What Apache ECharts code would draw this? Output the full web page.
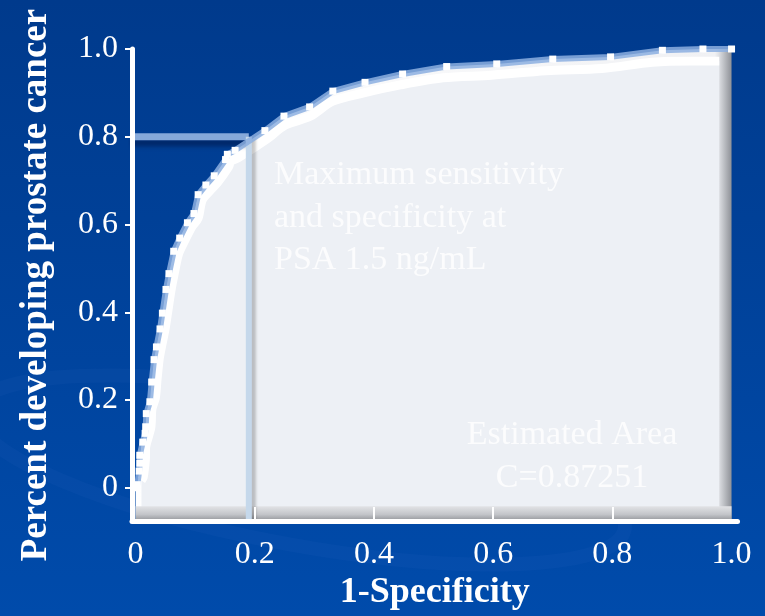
<!DOCTYPE html>
<html>
<head>
<meta charset="utf-8">
<script src="https://cdn.jsdelivr.net/npm/echarts@6/dist/echarts.min.js"></script>
<style>html,body{margin:0;padding:0;background:#0042a0;}#c{width:765px;height:616px;}</style>
</head>
<body>
<div id="c"></div>
<script>
// ROC curve points: [1-Specificity, Sensitivity]
const rocX = [0, 0.003, 0.006, 0.007, 0.007, 0.012, 0.016, 0.017, 0.018, 0.024, 0.027, 0.031, 0.035, 0.041, 0.045, 0.051, 0.056, 0.064, 0.074, 0.087, 0.098, 0.105, 0.118, 0.132, 0.151, 0.154, 0.167, 0.217, 0.249, 0.292, 0.331, 0.385, 0.448, 0.522, 0.606, 0.700, 0.797, 0.884, 0.952, 1.0];
const rocY = [0, 0.007, 0.038, 0.056, 0.074, 0.104, 0.124, 0.139, 0.169, 0.196, 0.241, 0.292, 0.321, 0.362, 0.398, 0.452, 0.488, 0.539, 0.569, 0.604, 0.625, 0.668, 0.690, 0.711, 0.748, 0.760, 0.769, 0.814, 0.847, 0.868, 0.904, 0.924, 0.943, 0.960, 0.966, 0.977, 0.982, 0.997, 1.0, 1.0];
// Optimal cut-off point (PSA 1.5 ng/mL)
const cutX = 0.19;
const cutY = 0.8;
const xTickLabels = [0, 0.2, 0.4, 0.6, 0.8, 1.0];
const yTickLabels = [0, 0.2, 0.4, 0.6, 0.8, 1.0];
const xInnerTicks = [0.2, 0.4, 0.6, 0.8];
const annotation1 = ['Maximum sensitivity', 'and specificity at', 'PSA 1.5 ng/mL'];
const annotation2 = ['Estimated Area', 'C=0.87251'];
const xTitle = '1-Specificity';
const yTitle = 'Percent developing prostate cancer';

const XMIN = -0.006, XMAX = 1.01, YMIN = -0.076, YMAX = 1.0;
const BEVEL_TOP = -0.042;
const roc = rocX.map((x, i) => [x, rocY[i]]);
const fmt = v => (v === 0 ? '0' : v.toFixed(1));
const serif = '"Liberation Serif", "DejaVu Serif", serif';

const chart = echarts.init(document.getElementById('c'), null, {renderer: 'canvas'});
chart.setOption({
  animation: false,
  backgroundColor: {
    type: 'linear', x: 0, y: 0, x2: 0, y2: 1,
    colorStops: [{offset: 0, color: '#003a8c'}, {offset: 1, color: '#004bab'}]
  },
  graphic: [
    {type: 'ellipse', silent: true, z: 0, rotation: -0.18, originX: 300, originY: 470,
     shape: {cx: 300, cy: 470, rx: 330, ry: 75},
     style: {fill: 'none', stroke: 'rgba(90,140,220,0.06)', lineWidth: 14}},
    {type: 'text', silent: true, z: 50, style: {
      text: annotation1.join('\n'), x: 274, y: 154, font: '34px ' + serif,
      fill: 'rgba(255,255,255,0.8)', lineHeight: 42.5, verticalAlign: 'top', align: 'left'}},
    {type: 'text', silent: true, z: 50, style: {
      text: annotation2.join('\n'), x: 572, y: 414, font: '34px ' + serif,
      fill: 'rgba(255,255,255,0.8)', lineHeight: 42.5, verticalAlign: 'top', align: 'center'}}
  ],
  grid: [
    {left: 132, top: 49, right: 27.5, bottom: 89},
    {left: 138, top: 61, right: 40, bottom: 104}
  ],
  xAxis: [
    {type: 'value', gridIndex: 0, min: XMIN, max: XMAX, z: 10,
     name: xTitle, nameLocation: 'middle', nameGap: 53,
     nameTextStyle: {color: '#ffffff', fontFamily: serif, fontSize: 36, fontWeight: 'bold'},
     axisLine: {show: true, onZero: false, lineStyle: {color: '#ffffff', width: 5}},
     axisTick: {show: true, inside: true, length: 14, customValues: xInnerTicks, lineStyle: {color: '#ffffff', width: 2}},
     axisLabel: {show: true, customValues: xTickLabels, formatter: fmt, color: '#ffffff', fontFamily: serif, fontSize: 32, margin: 17},
     splitLine: {show: false}},
    {type: 'value', gridIndex: 1, min: XMIN, max: XMAX, show: false}
  ],
  yAxis: [
    {type: 'value', gridIndex: 0, min: YMIN, max: YMAX, z: 10,
     name: yTitle, nameLocation: 'middle', nameGap: 77,
     nameTextStyle: {color: '#ffffff', fontFamily: serif, fontSize: 37, fontWeight: 'bold'},
     axisLine: {show: true, onZero: false, lineStyle: {color: '#ffffff', width: 5}},
     axisTick: {show: true, inside: false, length: 7, customValues: yTickLabels, lineStyle: {color: '#ffffff', width: 2}},
     axisLabel: {show: true, customValues: yTickLabels, formatter: fmt, color: '#ffffff', fontFamily: serif, fontSize: 32, margin: 14, padding: [9, 0, 0, 0]},
     splitLine: {show: false}},
    {type: 'value', gridIndex: 1, min: YMIN, max: YMAX, show: false}
  ],
  series: [
    { // back (bevel) shape
      type: 'line', xAxisIndex: 0, yAxisIndex: 0, data: roc, z: 1,
      showSymbol: false, lineStyle: {width: 0},
      areaStyle: {origin: 'start', opacity: 1, color: {
        type: 'linear', x: 0, y: 0, x2: 1, y2: 0,
        colorStops: [{offset: 0, color: '#ffffff'}, {offset: 0.972, color: '#f0f1f4'},
                     {offset: 0.978, color: '#e0e2e6'}, {offset: 1, color: '#8e9197'}]}}
    },
    { // front face
      type: 'line', xAxisIndex: 1, yAxisIndex: 1, data: roc, z: 2, smooth: 0.3,
      showSymbol: false, lineStyle: {color: '#ffffff', width: 9},
      areaStyle: {origin: 'start', opacity: 1, color: '#edf0f5'}
    },
    { // bottom bevel strip of the plot frame
      type: 'line', xAxisIndex: 0, yAxisIndex: 0, z: 2.5, showSymbol: false,
      data: [[0, BEVEL_TOP], [1.0, BEVEL_TOP]],
      lineStyle: {width: 0},
      areaStyle: {origin: 'start', opacity: 1, color: {
        type: 'linear', x: 0, y: 0, x2: 0, y2: 1,
        colorStops: [{offset: 0, color: '#e2e3e6'}, {offset: 0.55, color: '#c3c5c9'}, {offset: 1, color: '#8f9196'}]}}
    },
    { // horizontal reference at sensitivity 0.8
      type: 'line', xAxisIndex: 0, yAxisIndex: 0, z: 3, showSymbol: false,
      data: [[XMIN, cutY], [cutX, cutY]],
      lineStyle: {color: '#86a9da', width: 7, shadowColor: 'rgba(0,15,60,0.5)', shadowBlur: 4, shadowOffsetY: 6}
    },
    { // vertical reference at 1-specificity 0.19
      type: 'line', xAxisIndex: 0, yAxisIndex: 0, z: 3, showSymbol: false,
      data: [[cutX, cutY], [cutX, YMIN]],
      lineStyle: {color: '#c5d8eb', width: 6, shadowColor: 'rgba(0,0,0,0.22)', shadowBlur: 3, shadowOffsetX: 4}
    },
    { // ROC points
      type: 'line', xAxisIndex: 0, yAxisIndex: 0, data: roc, z: 4,
      showSymbol: true, symbol: 'rect', symbolSize: 7,
      itemStyle: {color: '#ffffff', borderWidth: 0},
      lineStyle: {color: 'rgba(140,175,225,0.85)', width: 6}
    }
  ]
});
</script>
</body>
</html>
